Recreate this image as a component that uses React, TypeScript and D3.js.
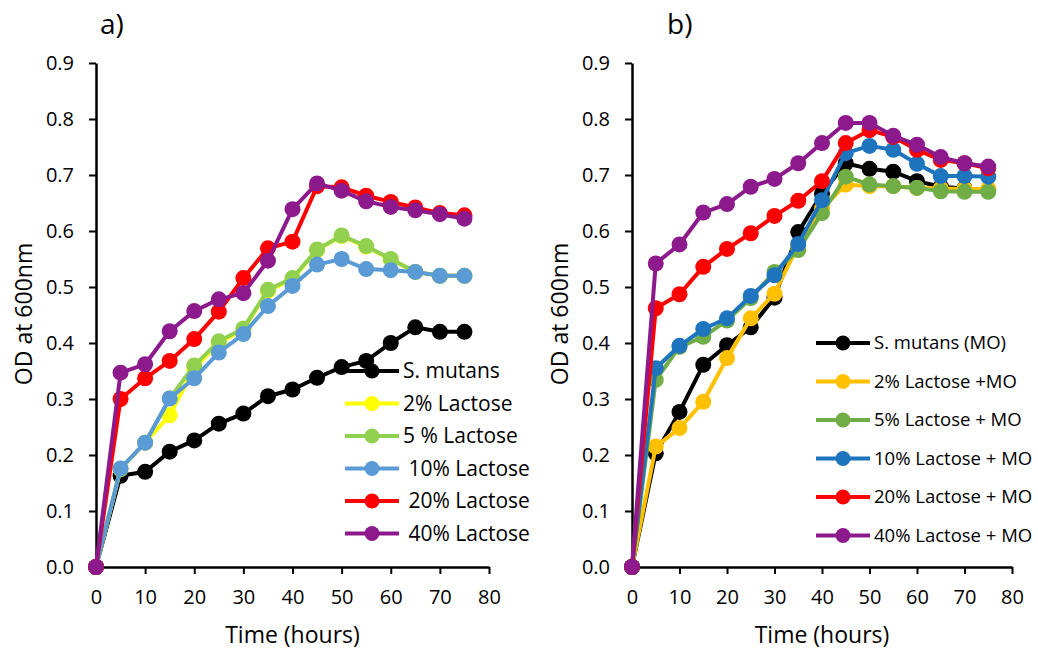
import React, { useEffect, useRef } from 'react';
import * as d3 from 'd3';

// time points (hours)
const hours = [0, 5, 10, 15, 20, 25, 30, 35, 40, 45, 50, 55, 60, 65, 70, 75];

// panel a
const aNames = ['S. mutans', '2% Lactose', '5 % Lactose', ' 10% Lactose', ' 20% Lactose', ' 40% Lactose'];
const aColors = ['#000000', '#FFFF00', '#92D050', '#5B9BD5', '#FF0000', '#8C1A8C'];
const aMutans = [0, 0.163, 0.170, 0.206, 0.226, 0.256, 0.274, 0.305, 0.317, 0.338, 0.357, 0.368, 0.400, 0.428, 0.420, 0.420];
const a2 = [0, 0.175, 0.222, 0.271, 0.355, 0.400, 0.424, 0.493, 0.514, 0.566, 0.591, 0.572, 0.549, 0.527, 0.520, 0.520];
const a5 = [0, 0.175, 0.222, 0.301, 0.360, 0.403, 0.426, 0.495, 0.516, 0.567, 0.592, 0.573, 0.550, 0.527, 0.520, 0.520];
const a10 = [0, 0.176, 0.222, 0.301, 0.337, 0.383, 0.416, 0.466, 0.502, 0.540, 0.550, 0.532, 0.530, 0.527, 0.520, 0.520];
const a20 = [0, 0.300, 0.337, 0.368, 0.407, 0.456, 0.516, 0.569, 0.581, 0.680, 0.678, 0.663, 0.652, 0.642, 0.632, 0.628];
const a40 = [0, 0.347, 0.362, 0.421, 0.457, 0.478, 0.489, 0.547, 0.639, 0.685, 0.672, 0.653, 0.643, 0.637, 0.630, 0.622];

// panel b
const bNames = ['S. mutans (MO)', '2% Lactose +MO', '5% Lactose + MO', '10% Lactose + MO', '20% Lactose + MO', '40% Lactose + MO'];
const bColors = ['#000000', '#FFC000', '#70AD47', '#1F74BE', '#FF0000', '#8C1A8C'];
const bMutans = [0, 0.203, 0.277, 0.361, 0.396, 0.428, 0.481, 0.598, 0.667, 0.721, 0.711, 0.706, 0.689, 0.679, 0.676, 0.673];
const b2 = [0, 0.215, 0.248, 0.295, 0.373, 0.444, 0.488, 0.575, 0.640, 0.683, 0.680, 0.680, 0.677, 0.676, 0.675, 0.675];
const b5 = [0, 0.334, 0.393, 0.411, 0.440, 0.480, 0.527, 0.566, 0.632, 0.697, 0.683, 0.680, 0.677, 0.671, 0.670, 0.670];
const b10 = [0, 0.355, 0.395, 0.425, 0.444, 0.484, 0.521, 0.577, 0.655, 0.739, 0.752, 0.745, 0.720, 0.698, 0.698, 0.697];
const b20 = [0, 0.462, 0.487, 0.536, 0.568, 0.596, 0.627, 0.654, 0.689, 0.757, 0.780, 0.768, 0.745, 0.727, 0.721, 0.712];
const b40 = [0, 0.542, 0.576, 0.633, 0.648, 0.679, 0.693, 0.721, 0.757, 0.793, 0.793, 0.770, 0.754, 0.732, 0.721, 0.715];

const xTicks = [0, 10, 20, 30, 40, 50, 60, 70, 80];
const yTicks = [0, 0.1, 0.2, 0.3, 0.4, 0.5, 0.6, 0.7, 0.8, 0.9];

const FONT = '"Open Sans", "Noto Sans", sans-serif';

function App() {
  const ref = useRef<SVGSVGElement>(null);

  useEffect(() => {
    const svg = d3.select(ref.current);
    svg.selectAll('*').remove();

    const panels = [
      {
        label: 'a)', labelX: 100, x0: 96, x1: 489, yTitleX: 24,
        names: aNames, colors: aColors, data: [aMutans, a2, a5, a10, a20, a40],
        legX: 345, legY: 371, legStep: 32.5, legFont: 21,
      },
      {
        label: 'b)', labelX: 667, x0: 632, x1: 1012, yTitleX: 560,
        names: bNames, colors: bColors, data: [bMutans, b2, b5, b10, b20, b40],
        legX: 816, legY: 343, legStep: 38.5, legFont: 18.5,
      },
    ];

    panels.forEach(p => {
      const x = d3.scaleLinear().domain([0, 80]).range([p.x0, p.x1]);
      const y = d3.scaleLinear().domain([0, 0.9]).range([567, 63]);
      const g = svg.append('g');

      // x axis
      const xAxis = d3.axisBottom(x).tickValues(xTicks).tickSize(7).tickSizeOuter(0).tickFormat(d3.format('d'));
      const gx = g.append('g').attr('transform', 'translate(0,567)').call(xAxis);
      gx.select('.domain').attr('stroke', '#000').attr('stroke-width', 2.5);
      gx.selectAll('.tick line').attr('stroke', '#000').attr('stroke-width', 2);
      gx.selectAll('.tick text').attr('font-family', FONT).attr('font-size', 20).attr('fill', '#000').attr('dy', '1.35em');

      // y axis
      const yAxis = d3.axisLeft(y).tickValues(yTicks).tickSize(7).tickSizeOuter(0).tickFormat(d3.format('.1f'));
      const gy = g.append('g').attr('transform', `translate(${p.x0},0)`).call(yAxis);
      gy.select('.domain').attr('stroke', '#000').attr('stroke-width', 2.5);
      gy.selectAll('.tick line').attr('stroke', '#000').attr('stroke-width', 2);
      gy.selectAll('.tick text').attr('font-family', FONT).attr('font-size', 20).attr('fill', '#000').attr('x', -22);

      // series
      const line = d3.line<number>().x((d, i) => x(hours[i])).y(d => y(d));
      p.data.forEach((s, k) => {
        g.append('path').attr('d', line(s)).attr('fill', 'none')
          .attr('stroke', p.colors[k]).attr('stroke-width', 4).attr('stroke-linejoin', 'round');
        g.selectAll(null).data(s).enter().append('circle')
          .attr('cx', (d, i) => x(hours[i])).attr('cy', d => y(d)).attr('r', 8)
          .attr('fill', p.colors[k]);
      });

      // legend
      p.names.forEach((n, k) => {
        const ly = p.legY + k * p.legStep;
        g.append('line').attr('x1', p.legX).attr('x2', p.legX + 54).attr('y1', ly).attr('y2', ly)
          .attr('stroke', p.colors[k]).attr('stroke-width', 4);
        g.append('circle').attr('cx', p.legX + 27).attr('cy', ly).attr('r', 7.5).attr('fill', p.colors[k]);
        g.append('text').attr('x', p.legX + 58).attr('y', ly).attr('dy', '0.35em')
          .attr('font-family', FONT).attr('font-size', p.legFont).attr('fill', '#000')
          .attr('xml:space', 'preserve').style('white-space', 'pre').text(n);
      });

      // titles
      g.append('text').attr('x', p.labelX).attr('y', 34).attr('font-family', FONT)
        .attr('font-size', 28).attr('fill', '#000').text(p.label);
      g.append('text').attr('transform', `translate(${p.yTitleX},314) rotate(-90)`)
        .attr('text-anchor', 'middle').attr('dy', '0.35em').attr('font-family', FONT)
        .attr('font-size', 23).attr('fill', '#000').text('OD at 600nm');
      g.append('text').attr('x', (p.x0 + p.x1) / 2).attr('y', 643).attr('text-anchor', 'middle')
        .attr('font-family', FONT).attr('font-size', 23).attr('fill', '#000').text('Time (hours)');
    });
  }, []);

  return (
    <div style={{ position: 'absolute', left: 0, top: 0 }}>
      <svg ref={ref} width={1038} height={651} style={{ display: 'block', background: '#fff' }} />
    </div>
  );
}

export default App;
